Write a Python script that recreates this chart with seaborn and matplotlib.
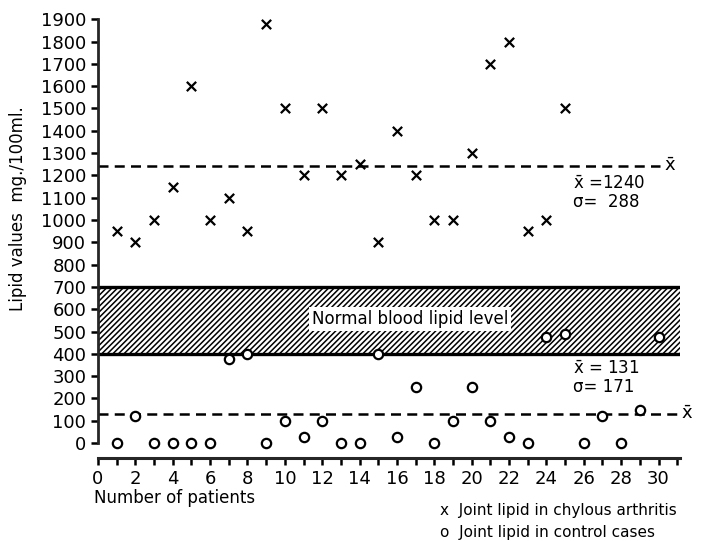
import numpy as np
import pandas as pd
import matplotlib
matplotlib.use("Agg")
import matplotlib.pyplot as plt
import seaborn as sns

patients = list(range(1, 31))
chylous = [950, 900, 1000, 1150, 1600, 1000, 1100, 950, 1880, 1500,
           1200, 1500, 1200, 1250, 900, 1400, 1200, 1000, 1000, 1300,
           1700, 1800, 950, 1000, 1500]
control = [0, 120, 0, 0, 0, 0, 375, 400, 0, 100,
           25, 100, 0, 0, 400, 25, 250, 0, 100, 250,
           100, 25, 0, 475, 490, 0, 120, 0, 150, 475]
chylous_mean, chylous_sd = 1240, 288
control_mean, control_sd = 131, 171
normal_low, normal_high = 400, 700
y_ticks = list(range(0, 2000, 100))
x_ticks = list(range(0, 31, 2))

df = pd.concat([
    pd.DataFrame({"patient": patients[:len(chylous)], "lipid": chylous, "group": "chylous"}),
    pd.DataFrame({"patient": patients, "lipid": control, "group": "control"}),
])

sns.set_style("ticks")
plt.rcParams["font.family"] = ["DejaVu Sans"]
plt.rcParams["text.color"] = "black"
plt.rcParams["hatch.linewidth"] = 1.1

fig = plt.figure(figsize=(7.02, 5.41), dpi=100)
ax = fig.add_axes([0.1396, 0.1534, 0.8291, 0.8152])

# normal blood lipid band
ax.fill_between([0, 31.15], normal_low, normal_high, facecolor="white",
                edgecolor="black", hatch="//////", linewidth=0, zorder=1)
ax.hlines([normal_low, normal_high], 0, 31.15, colors="black", linewidth=2.4, zorder=2)
ax.text(16.7, 556, "Normal blood lipid level", ha="center", va="center", fontsize=12,
        bbox=dict(facecolor="white", edgecolor="none", pad=2), zorder=3)

# mean lines
ax.hlines(chylous_mean, 0, 30.1, colors="black", linestyles=(0, (4, 2.5)), linewidth=1.8, zorder=2)
ax.hlines(control_mean, 0, 31.0, colors="black", linestyles=(0, (4, 2.5)), linewidth=1.8, zorder=2)
ax.text(30.6, chylous_mean, r"$\bar{\mathrm{x}}$", ha="center", va="center", fontsize=13)
ax.text(31.5, control_mean, r"$\bar{\mathrm{x}}$", ha="center", va="center", fontsize=13, clip_on=False)
ax.text(25.4, 1160, r"$\bar{\mathrm{x}}$ =%d" % chylous_mean, fontsize=12, va="center")
ax.text(25.4, 1080, "σ=  %d" % chylous_sd, fontsize=12, va="center")
ax.text(25.4, 330, r"$\bar{\mathrm{x}}$ = %d" % control_mean, fontsize=12, va="center")
ax.text(25.4, 250, "σ= %d" % control_sd, fontsize=12, va="center")

sns.scatterplot(data=df[df.group == "chylous"], x="patient", y="lipid", marker="x",
                color="black", s=45, linewidth=1.6, ax=ax, zorder=4, clip_on=False, legend=False)
sns.scatterplot(data=df[df.group == "control"], x="patient", y="lipid", marker="o",
                facecolor="white", edgecolor="black", s=45, linewidth=1.6, ax=ax,
                zorder=4, clip_on=False, legend=False)

ax.set_xlim(0, 31.15)
ax.set_ylim(-67, 1910)
ax.set_xticks(range(0, 32))
ax.set_xticklabels([str(i) if i in x_ticks else "" for i in range(0, 32)], fontsize=13)
ax.set_yticks(y_ticks)
ax.set_yticklabels([str(v) for v in y_ticks], fontsize=13)
ax.tick_params(axis="both", direction="out", length=5, width=1.8, colors="black")
ax.set_xlabel("")
ax.set_ylabel("")
for s in ["top", "right"]:
    ax.spines[s].set_visible(False)
ax.spines["left"].set_bounds(0, 1900)
ax.spines["left"].set_linewidth(2)
ax.spines["bottom"].set_linewidth(2.2)

fig.text(0.026, 0.614, "Lipid values  mg./100ml.", rotation=90, ha="center", va="center", fontsize=12)
fig.text(0.134, 0.079, "Number of patients", ha="left", va="center", fontsize=12)
fig.text(0.627, 0.057, "x  Joint lipid in chylous arthritis", ha="left", va="center", fontsize=11)
fig.text(0.627, 0.015, "o  Joint lipid in control cases", ha="left", va="center", fontsize=11)

fig.savefig("out.png", dpi=100)
